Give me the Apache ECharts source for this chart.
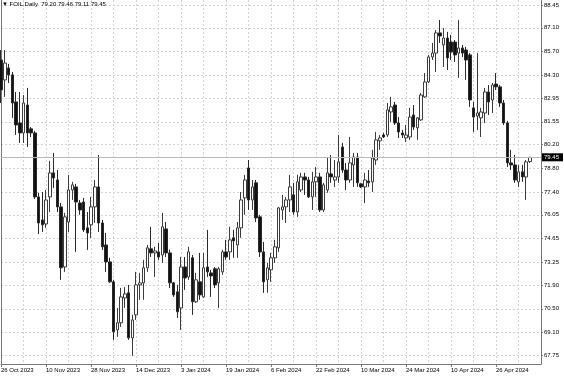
<!DOCTYPE html>
<html><head><meta charset="utf-8">
<script src="https://cdn.jsdelivr.net/npm/echarts@6/dist/echarts.min.js"></script>
<style>html,body{margin:0;padding:0;background:#fff}#c{width:564px;height:376px}</style>
</head><body><div id="c"></div>
<script>
const symbolName = 'FOIL,Daily';
const xTickLabels = ['26 Oct 2023','10 Nov 2023','28 Nov 2023','14 Dec 2023','3 Jan 2024','19 Jan 2024','6 Feb 2024','22 Feb 2024','10 Mar 2024','24 Mar 2024','10 Apr 2024','26 Apr 2024'];
const yTickValues = [67.75,69.10,70.50,71.90,73.25,74.65,76.05,77.40,78.80,80.20,81.55,82.95,84.30,85.70,87.10,88.45];
const open = [85.20,84.02,84.73,84.32,82.72,81.48,80.89,82.54,81.13,80.89,
77.11,75.75,75.51,77.11,78.53,78.11,76.52,72.97,75.63,77.52,
77.70,76.75,76.81,75.28,75.46,76.52,77.70,75.57,74.27,73.27,
72.09,69.25,69.67,71.14,71.44,68.78,70.14,71.91,72.03,72.92,
74.04,73.80,73.86,73.68,75.22,73.80,72.03,71.50,70.55,72.97,
72.38,73.51,70.91,72.09,71.20,72.97,72.62,72.86,72.03,72.68,
73.86,73.86,74.69,74.27,75.28,77.05,78.82,76.93,77.94,75.93,
73.86,72.21,72.80,73.51,74.10,76.34,76.52,76.93,77.23,76.22,
77.52,78.29,78.11,77.11,78.00,78.29,76.34,77.52,78.47,78.11,
78.29,80.06,78.70,78.11,79.00,79.47,77.88,77.70,78.05,78.00,
79.29,80.42,80.77,80.77,82.13,82.54,81.48,80.89,80.59,80.65,
81.95,81.19,81.66,83.02,83.90,85.38,85.61,86.80,86.09,86.50,
86.26,86.26,85.61,85.91,85.79,85.50,82.37,81.89,81.78,82.07,
83.31,82.84,83.78,83.61,82.66,81.48,79.12,79.00,78.00,78.59,
78.29,79.20];
const high = [85.79,85.79,84.97,84.49,83.31,83.31,83.13,83.55,81.24,81.01,
77.35,77.40,77.52,79.24,79.71,78.70,76.75,76.16,78.41,78.00,
77.88,76.93,77.05,76.22,77.11,78.11,79.59,75.75,74.98,73.51,
72.21,70.55,71.73,71.79,71.91,70.14,72.68,72.62,73.39,74.27,
75.34,74.16,74.39,76.16,75.63,73.98,72.09,71.91,73.56,73.56,
74.16,73.68,72.62,73.80,73.80,75.16,72.80,72.97,72.97,73.98,
74.57,75.34,75.16,75.63,77.40,78.41,79.29,78.11,78.11,76.05,
74.45,73.21,73.80,74.57,76.52,77.23,77.11,78.41,77.94,78.41,
78.53,78.53,78.29,78.59,78.88,78.53,77.94,79.47,79.59,79.29,
80.77,80.30,79.12,80.65,79.71,79.71,77.94,78.53,78.70,79.89,
80.95,80.77,80.89,82.66,83.02,82.72,81.83,81.07,81.36,82.37,
82.54,81.83,83.25,84.43,85.50,86.21,86.97,87.56,87.09,86.86,
86.68,86.38,87.56,86.09,85.97,85.61,82.72,85.61,82.37,83.55,
83.72,83.84,84.43,83.72,82.84,81.60,79.89,79.59,79.00,79.00,
79.29,79.46];
const low = [82.66,83.02,83.84,81.78,80.77,80.30,80.30,80.06,80.65,76.99,
74.92,75.04,75.28,76.22,77.64,76.22,72.21,72.68,75.04,76.93,
73.86,76.05,75.04,73.98,74.69,75.57,75.04,73.98,72.68,72.03,
68.66,68.84,69.43,70.55,68.66,67.72,69.84,71.03,71.03,72.68,
73.56,72.38,73.39,73.21,73.56,71.73,71.20,69.96,69.25,71.62,
72.21,70.14,70.85,71.03,71.14,72.38,71.20,71.73,70.55,72.50,
73.39,73.39,73.51,73.51,74.69,76.05,76.34,76.34,75.63,73.56,
71.44,71.44,72.09,73.21,73.86,75.75,75.57,76.22,76.05,75.93,
77.40,77.23,77.05,76.34,77.11,76.22,76.22,77.35,77.94,77.70,
77.94,78.53,77.52,77.94,77.70,77.70,77.64,76.75,77.70,77.40,
79.00,79.89,80.59,80.65,81.54,81.36,80.59,80.59,80.36,80.48,
81.07,80.48,81.60,82.96,83.84,85.20,84.49,86.21,84.79,84.61,
85.20,85.08,84.14,85.38,84.02,82.43,80.95,81.07,80.65,81.48,
81.95,82.07,83.43,82.43,81.36,78.88,78.70,77.94,77.70,78.00,
76.93,79.11];
const close = [83.43,85.02,84.32,82.66,81.36,80.89,82.66,80.89,80.89,77.11,
75.57,75.46,76.93,78.53,78.23,76.52,72.92,75.93,77.52,77.82,
76.81,76.34,75.16,74.98,76.52,77.70,75.57,74.16,73.27,72.09,
69.14,69.67,71.20,71.38,68.78,69.84,71.91,72.03,72.92,74.10,
73.80,73.92,73.56,75.34,73.80,72.03,71.32,70.32,72.97,72.32,
73.86,70.91,72.21,71.32,72.92,72.68,72.44,71.91,72.86,73.86,
73.56,74.57,74.51,75.28,76.93,78.11,76.93,77.70,75.87,73.86,
72.09,72.92,73.51,74.16,76.46,76.52,76.93,77.70,76.22,78.00,
78.29,78.11,77.11,78.00,78.29,76.34,77.82,78.53,78.29,78.29,
79.18,78.70,78.11,79.12,79.47,77.94,77.70,78.11,77.94,79.41,
80.48,80.59,80.65,82.25,82.43,81.48,80.95,80.77,80.77,81.83,
81.24,81.78,83.13,83.90,85.38,85.61,86.80,86.62,86.50,85.32,
85.67,85.50,85.91,85.61,85.20,82.84,81.83,82.07,82.13,83.31,
82.72,83.72,83.61,82.66,81.48,79.12,79.00,78.11,78.59,78.29,
79.18,79.45];

const LABELS_EVERY = 12, GRID_EVERY = 6, EMPTY_SLOTS = 3;
const nCat = close.length + EMPTY_SLOTS;
const categories = Array.from({length: nCat}, (_, i) => String(i));
const candles = close.map((c, i) => [open[i], c, low[i], high[i]]);
const last = close.length - 1;
const fmt = v => Number(v).toFixed(2);
const header = '\u25BC ' + symbolName + '  ' + [open[last], high[last], low[last], close[last]].map(fmt).join(' ');
const FONT = "'Liberation Sans', Arial, sans-serif";

const chart = echarts.init(document.getElementById('c'), null, {renderer: 'canvas'});
chart.setOption({
  animation: false,
  backgroundColor: '#ffffff',
  title: {
    text: header, left: 2, top: 1, padding: 0,
    textStyle: {fontSize: 6, fontWeight: 'normal', color: '#000', fontFamily: FONT}
  },
  grid: {left: 1, right: 23, top: 0, bottom: 12, containLabel: false, outerBoundsMode: 'none'},
  xAxis: {
    type: 'category', data: categories, boundaryGap: false,
    axisLine: {show: true, lineStyle: {color: '#777', width: 1}},
    axisTick: {show: true, length: 3, lineStyle: {color: '#777'},
      interval: (i) => i % LABELS_EVERY === 0 && i / LABELS_EVERY < xTickLabels.length},
    axisLabel: {
      show: true, margin: 3, align: 'left', fontSize: 6, color: '#000', fontFamily: FONT,
      interval: (i) => i % LABELS_EVERY === 0 && i / LABELS_EVERY < xTickLabels.length,
      formatter: (v, i) => (i % LABELS_EVERY === 0 ? (xTickLabels[i / LABELS_EVERY] || '') : '')
    },
    splitLine: {show: true, interval: (i) => i % GRID_EVERY === 0,
      lineStyle: {color: '#d2d2d2', type: [2, 2], width: 1}}
  },
  yAxis: [{
    type: 'value', position: 'right', min: 67.236, max: 88.745, scale: true,
    axisLine: {show: true, lineStyle: {color: '#777', width: 1}},
    axisTick: {show: true, length: 2, customValues: yTickValues, lineStyle: {color: '#777'}},
    axisLabel: {show: true, customValues: yTickValues, margin: 3, fontSize: 6, color: '#000',
      fontFamily: FONT, formatter: fmt},
    splitLine: {show: true, lineStyle: {color: '#d2d2d2', type: [2, 2], width: 1}}
  }, {
    type: 'value', position: 'left', min: 67.236, max: 88.745,
    axisLine: {show: true, lineStyle: {color: '#777', width: 1}},
    axisTick: {show: false}, axisLabel: {show: false}, splitLine: {show: false}
  }],
  series: [{
    type: 'candlestick',
    data: candles,
    barWidth: 3,
    itemStyle: {color: '#ffffff', color0: '#111111', borderColor: '#3c3c3c', borderColor0: '#2a2a2a', borderWidth: 1},
    markLine: {
      silent: true, symbol: ['none', 'none'], animation: false,
      data: [{yAxis: close[last]}],
      lineStyle: {color: '#b8b8b8', type: 'solid', width: 1},
      label: {show: true, position: 'end', distance: 1, formatter: (p) => fmt(p.value),
        backgroundColor: '#000', color: '#fff', fontSize: 6, fontFamily: FONT, padding: [1, 4, 1, 2]}
    }
  }]
});
</script>
</body></html>
